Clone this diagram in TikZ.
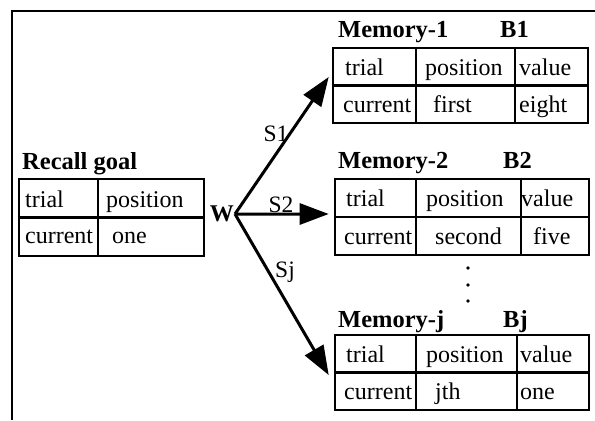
\documentclass[tikz,border=0pt]{standalone}
\usepackage{fontspec}
\setmainfont{Liberation Serif}
\usetikzlibrary{arrows.meta}
\begin{document}
\begin{tikzpicture}[x=1bp,y=-1bp,
  tbl/.style={draw,line width=2.6bp,inner sep=0pt,minimum height=76bp},
  cell/.style={anchor=base west,inner sep=0pt,font=\fontsize{24bp}{26bp}\selectfont},
  ttl/.style={anchor=base west,inner sep=0pt,font=\fontsize{24.5bp}{27bp}\selectfont\bfseries},
  lbl/.style={anchor=base,inner sep=0pt,font=\fontsize{23.5bp}{26bp}\selectfont},
  arr/.style={line width=3bp,-{Triangle[length=29bp,width=21bp]}},
  grid/.style={line width=2.2bp}]
\useasboundingbox (0,0) rectangle (595,420);
% outer frame (open on the right and bottom)
\draw[line width=2.6bp] (12,420) -- (12,11) -- (595,11);

% recall goal
\node[ttl] (rgt) at (22,169) {Recall goal};
\node[tbl,minimum width=185bp,minimum height=77bp] (rg) at (111.5,217.5) {};
\draw[grid] (rg.west) -- (rg.east);
\draw[grid] ([xshift=80bp]rg.north west) -- ([xshift=80bp]rg.south west);
\node[cell] (rg11) at (25,207) {trial};
\node[cell] (rg12) at (106,207) {position};
\node[cell] (rg21) at (25,243) {current};
\node[cell] (rg22) at (112,243) {one};

% memory 1
\node[ttl] (m1t) at (338,37) {Memory-1};
\node[ttl] (m1b) at (500,37) {B1};
\node[tbl,minimum width=255bp,minimum height=75bp] (m1) at (460.5,85.5) {};
\draw[grid] (m1.west) -- (m1.east);
\draw[grid] ([xshift=84bp]m1.north west) -- ([xshift=84bp]m1.south west);
\draw[grid] ([xshift=183bp]m1.north west) -- ([xshift=183bp]m1.south west);
\node[cell] (m111) at (345,75) {trial};
\node[cell] (m112) at (425,75) {position};
\node[cell] (m113) at (519,75) {value};
\node[cell] (m121) at (343,112) {current};
\node[cell] (m122) at (433,112) {first};
\node[cell] (m123) at (519,112) {eight};

% memory 2
\node[ttl] (m2t) at (338,168) {Memory-2};
\node[ttl] (m2b) at (503,168) {B2};
\node[tbl,minimum width=254bp,minimum height=76bp] (m2) at (462,217) {};
\draw[grid] (m2.west) -- (m2.east);
\draw[grid] ([xshift=82bp]m2.north west) -- ([xshift=82bp]m2.south west);
\draw[grid] ([xshift=187bp]m2.north west) -- ([xshift=187bp]m2.south west);
\node[cell] (m211) at (346,206) {trial};
\node[cell] (m212) at (426,206) {position};
\node[cell] (m213) at (521,206) {value};
\node[cell] (m221) at (344,244) {current};
\node[cell] (m222) at (435,244) {second};
\node[cell] (m223) at (533,244) {five};

% ellipsis between the memories
\foreach \yy/\nm in {268/d1,285/d2,301/d3}
  \fill (468,\yy) coordinate (\nm) circle (1.8bp);

% memory j
\node[ttl] (mjt) at (338,327) {Memory-j};
\node[ttl] (mjb) at (503,327) {Bj};
\node[tbl,minimum width=254bp,minimum height=75bp] (mj) at (462,372.5) {};
\draw[grid] (mj.west) -- (mj.east);
\draw[grid] ([xshift=82bp]mj.north west) -- ([xshift=82bp]mj.south west);
\draw[grid] ([xshift=183bp]mj.north west) -- ([xshift=183bp]mj.south west);
\node[cell] (mj11) at (346,362) {trial};
\node[cell] (mj12) at (426,362) {position};
\node[cell] (mj13) at (520,362) {value};
\node[cell] (mj21) at (344,399) {current};
\node[cell] (mj22) at (435,399) {jth};
\node[cell] (mj23) at (520,399) {one};

% weight hub and spreading arrows
\node[anchor=base east,inner sep=0pt,font=\fontsize{24bp}{27bp}\selectfont\bfseries] (w) at (234,221) {W};
\coordinate (hub) at (235,214);
\draw[arr] (hub) -- ([xshift=-3bp,yshift=8.5bp]m1.west);
\draw[arr] (hub) -- ([xshift=-5bp,yshift=3bp]m2.west);
\draw[arr] (hub) -- ([xshift=-5bp,yshift=-2.5bp]mj.west);
\node[lbl] (s1) at (276,141) {S1};
\node[lbl] (s2) at (281,212) {S2};
\node[lbl] (sj) at (285,277) {Sj};
\end{tikzpicture}
\end{document}
